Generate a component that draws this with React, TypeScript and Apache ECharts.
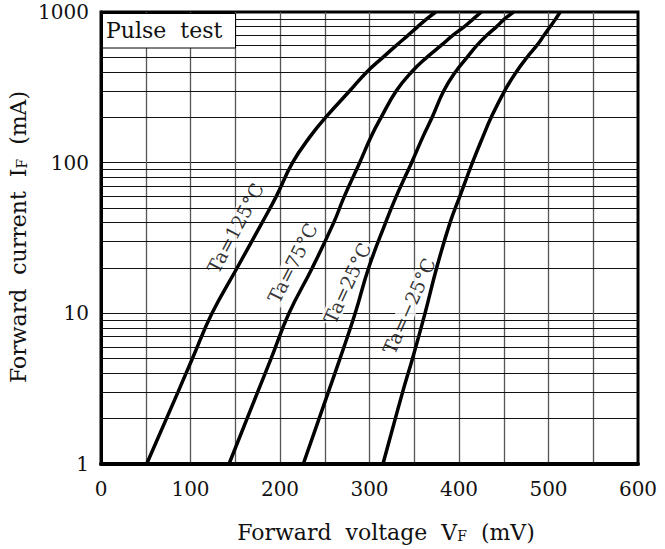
import React, { useEffect, useRef } from 'react';
import * as echarts from 'echarts';

// Forward current levels (mA) at which each curve's voltage was read
const CURRENT_MA = [1, 3, 5, 10, 20, 40, 60, 100, 150, 200, 300, 400, 500, 600, 700, 800, 900, 1000];

// Forward voltage (mV) for each temperature
const VF_125 = [51, 86, 102, 124, 152, 180, 196, 214, 234, 251, 278, 297, 315, 330, 343, 354, 364, 374];
const VF_75 = [143, 175, 190, 210, 236, 260, 272, 289, 302, 313, 330, 347, 364, 380, 393, 406, 416, 425];
const VF_25 = [226, 254, 267, 284, 299, 318, 330, 347, 360, 370, 383, 396, 409, 420, 431, 442, 451, 461];
const VF_M25 = [315, 337, 348, 362, 375, 390, 401, 415, 427, 436, 451, 464, 476, 487, 495, 502, 508, 513];

const CURVE_NAMES = ['Ta=125°C', 'Ta=75°C', 'Ta=25°C', 'Ta=−25°C'];

// label anchor points (mV, mA) along each curve
const LABEL_VF = [150, 214, 275, 344];
const LABEL_IF = [36.8, 21.6, 15.9, 11.2];
const LABEL_ROT = [62, 63, 65, 66];

// tick labels
const X_TICKS = [0, 100, 200, 300, 400, 500, 600];
const Y_TICKS = [1, 10, 100, 1000];
const MINOR_CURRENTS = [
  2, 3, 4, 5, 6, 7, 8, 9,
  20, 30, 40, 50, 60, 70, 80, 90,
  200, 300, 400, 500, 600, 700, 800, 900,
];

export default function App() {
  const ref = useRef<HTMLDivElement>(null);

  useEffect(() => {
    const chart = echarts.init(ref.current!, null, { renderer: 'svg' });
    const font = 'DejaVu Serif';
    const curves = [VF_125, VF_75, VF_25, VF_M25];

    const curveSeries = curves.map((vf, k) => ({
      name: CURVE_NAMES[k],
      type: 'line',
      data: vf.map((v, i) => [v, CURRENT_MA[i]]),
      smooth: 0.45,
      symbol: 'none',
      silent: true,
      z: 4,
      lineStyle: { color: '#000', width: 3.5 },
    }));

    const option: any = {
      animation: false,
      backgroundColor: '#fff',
      grid: {
        left: 101,
        right: 27,
        top: 12,
        bottom: 85,
        show: true,
        borderColor: '#000',
        borderWidth: 3,
        backgroundColor: 'transparent',
      },
      xAxis: {
        type: 'value',
        min: 0,
        max: 600,
        interval: 50,
        axisLine: { show: true, lineStyle: { color: '#000', width: 4 } },
        axisTick: { show: false },
        axisLabel: {
          margin: 15,
          fontSize: 20,
          fontFamily: font,
          color: '#111',
          showMinLabel: true,
          showMaxLabel: true,
          formatter: (v: number) => (X_TICKS.indexOf(Math.round(v)) >= 0 ? String(Math.round(v)) : ''),
        },
        splitLine: {
          show: true,
          showMinLine: false,
          showMaxLine: false,
          lineStyle: { color: '#555', width: 1.3 },
        },
      },
      yAxis: {
        type: 'log',
        logBase: 10,
        min: 1,
        max: 1000,
        axisLine: { show: true, lineStyle: { color: '#000', width: 3 } },
        axisTick: { show: false },
        axisLabel: {
          margin: 12,
          fontSize: 20,
          fontFamily: font,
          color: '#111',
          showMinLabel: true,
          showMaxLabel: true,
          formatter: (v: number) => {
            const r = Math.round(v);
            return Y_TICKS.indexOf(r) >= 0 ? String(r) : '';
          },
        },
        splitLine: {
          show: true,
          showMinLine: false,
          showMaxLine: false,
          lineStyle: { color: '#111', width: 1 },
        },
      },
      series: [
        {
          type: 'line',
          data: [],
          silent: true,
          z: 1,
          markLine: {
            silent: true,
            symbol: ['none', 'none'],
            label: { show: false },
            emphasis: { disabled: true },
            lineStyle: { color: '#111', width: 1, type: 'solid' },
            data: MINOR_CURRENTS.map((c) => ({ yAxis: c })),
          },
        },
        ...curveSeries,
        {
          type: 'scatter',
          silent: true,
          z: 3,
          symbolSize: 2,
          itemStyle: { color: 'rgba(0,0,0,0)' },
          label: {
            show: true,
            position: 'inside',
            fontFamily: font,
            fontSize: 19,
            color: '#000',
            backgroundColor: '#fff',
            padding: [0, 2],
          },
          data: CURVE_NAMES.map((n, i) => ({
            value: [LABEL_VF[i], LABEL_IF[i]],
            label: { formatter: n, rotate: LABEL_ROT[i] },
          })),
        },
      ],
      graphic: [
        {
          type: 'rect',
          z: 10,
          shape: { x: 102.5, y: 13.5, width: 133, height: 34.5 },
          style: { fill: '#fff', stroke: '#000', lineWidth: 1 },
        },
        {
          type: 'text',
          z: 11,
          x: 106,
          y: 30,
          style: {
            text: 'Pulse\u00a0\u00a0test',
            fontFamily: font,
            fontSize: 22,
            fill: '#111',
            textAlign: 'left',
            textVerticalAlign: 'middle',
          },
        },
        {
          type: 'text',
          z: 11,
          x: 386,
          y: 532,
          style: {
            text: 'Forward\u00a0\u00a0voltage\u00a0\u00a0V{s|F}\u00a0\u00a0(mV)',
            fontFamily: font,
            fontSize: 22,
            fill: '#111',
            textAlign: 'center',
            textVerticalAlign: 'middle',
            rich: { s: { fontFamily: font, fontSize: 14, fill: '#111', verticalAlign: 'bottom' } },
          },
        },
        {
          type: 'text',
          z: 11,
          x: 18,
          y: 237,
          rotation: Math.PI / 2,
          style: {
            text: 'Forward\u00a0\u00a0current\u00a0\u00a0I{s|F}\u00a0\u00a0(mA)',
            fontFamily: font,
            fontSize: 22,
            fill: '#111',
            textAlign: 'center',
            textVerticalAlign: 'middle',
            rich: { s: { fontFamily: font, fontSize: 14, fill: '#111', verticalAlign: 'bottom' } },
          },
        },
      ],
    };

    chart.setOption(option);
    return () => chart.dispose();
  }, []);

  return (
    <div
      ref={ref}
      style={{ position: 'fixed', left: 0, top: 0, width: 665, height: 549, background: '#fff' }}
    />
  );
}
